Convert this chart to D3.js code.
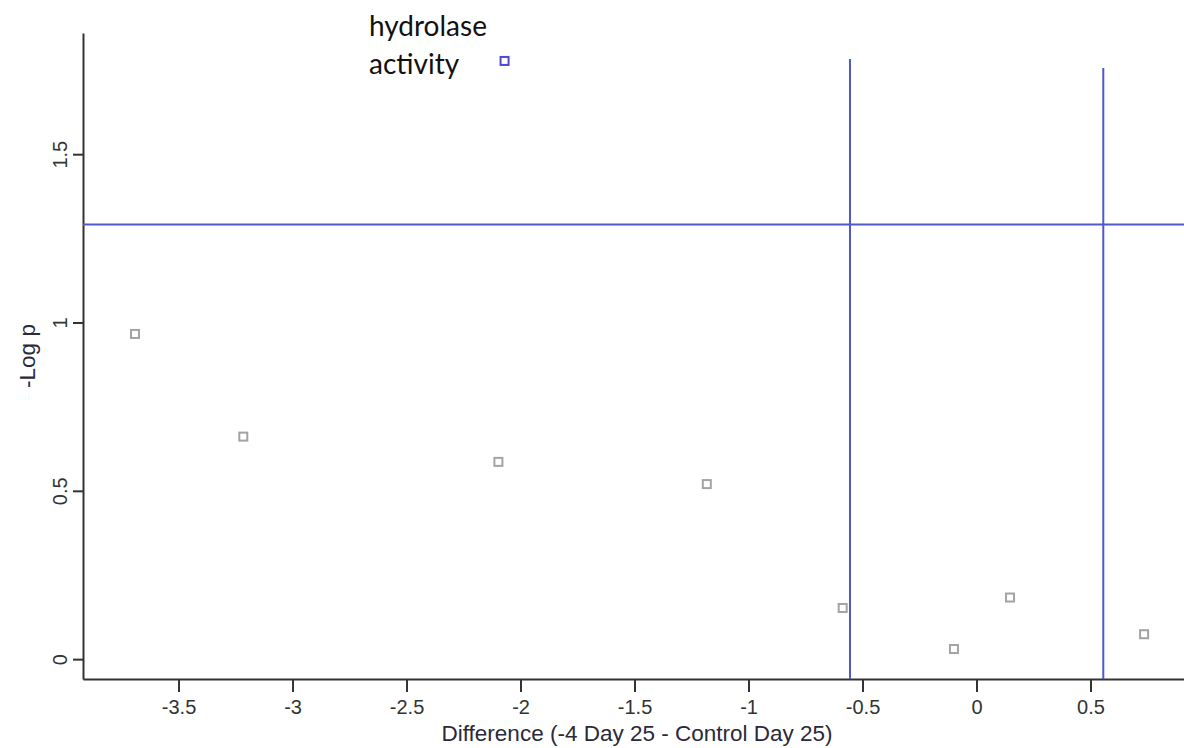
<!DOCTYPE html>
<html>
<head>
<meta charset="utf-8">
<script src="https://cdn.jsdelivr.net/npm/d3@7"></script>
<style>
  html, body { margin: 0; padding: 0; background: #fff; }
  svg { display: block; }
</style>
</head>
<body>
<svg id="chart" width="1184" height="748"></svg>
<script>
// ---- data ----
const diffValues = [-3.691, -3.216, -2.097, -1.183, -0.587, -0.099, 0.147, 0.735];
const logpValues = [0.966, 0.661, 0.586, 0.520, 0.152, 0.030, 0.183, 0.074];
const highlightLabel = ["hydrolase", "activity"];
const highlightX = [-2.070];
const highlightY = [1.777];
const xTicks = [-3.5, -3, -2.5, -2, -1.5, -1, -0.5, 0, 0.5];
const yTicks = [0, 0.5, 1, 1.5];
const hLineValue = [1.291];
const vLineX = [-0.555, 0.556];
const vLineTop = [1.783, 1.756];
const xTitle = "Difference (-4 Day 25 - Control Day 25)";
const yTitle = "-Log p";

// ---- layout ----
const svg = d3.select("#chart");
const axisColor = "#333";
const blue = "#5058cc";
const font = "'Liberation Sans', Arial, sans-serif";

const x = d3.scaleLinear().domain([-3.919, 0.910]).range([83, 1184]);
const y = d3.scaleLinear().domain([-0.059, 1.860]).range([679, 33]);

// x axis
const xAxis = d3.axisBottom(x).tickValues(xTicks).tickSize(13).tickSizeOuter(0)
  .tickFormat(d => String(d));
const gx = svg.append("g").attr("transform", `translate(0,${y.range()[0]})`).call(xAxis);
gx.select(".domain").attr("stroke", axisColor).attr("stroke-width", 2);
gx.selectAll(".tick line").attr("stroke", axisColor).attr("stroke-width", 2);
gx.selectAll(".tick text").attr("fill", axisColor).attr("font-family", font)
  .attr("font-size", 20).attr("dy", 0).attr("y", 35);

// y axis
const yAxis = d3.axisLeft(y).tickValues(yTicks).tickSize(10).tickSizeOuter(0)
  .tickFormat(d => String(d));
const gy = svg.append("g").attr("transform", `translate(${x.range()[0]},0)`).call(yAxis);
gy.select(".domain").attr("stroke", axisColor).attr("stroke-width", 2);
gy.selectAll(".tick line").attr("stroke", axisColor).attr("stroke-width", 2);
gy.selectAll(".tick text").attr("fill", axisColor).attr("font-family", font)
  .attr("font-size", 20)
  .attr("x", 0).attr("dy", 0)
  .attr("text-anchor", "middle")
  .attr("transform", "translate(-16,0) rotate(-90)")
  .attr("y", 0);

// axis titles
svg.append("text").attr("x", 637).attr("y", 741).attr("text-anchor", "middle")
  .attr("font-family", font).attr("font-size", 22.5).attr("fill", "#2a2a3a").text(xTitle);
svg.append("text").attr("transform", `translate(35,356) rotate(-90)`).attr("text-anchor", "middle")
  .attr("font-family", font).attr("font-size", 22.5).attr("fill", "#2a2a3a").text(yTitle);

// threshold lines
svg.selectAll(".hline").data(hLineValue).enter().append("line")
  .attr("x1", x.range()[0]).attr("x2", x.range()[1])
  .attr("y1", d => y(d)).attr("y2", d => y(d))
  .attr("stroke", blue).attr("stroke-width", 2);
svg.selectAll(".vline").data(vLineX).enter().append("line")
  .attr("x1", d => x(d)).attr("x2", d => x(d))
  .attr("y1", (d, i) => y(vLineTop[i])).attr("y2", y.range()[0])
  .attr("stroke", blue).attr("stroke-width", 2);

// points
const s = 8;
svg.selectAll(".pt").data(diffValues).enter().append("rect")
  .attr("x", d => x(d) - s / 2)
  .attr("y", (d, i) => y(logpValues[i]) - s / 2)
  .attr("width", s).attr("height", s)
  .attr("fill", "#fff").attr("stroke", "#a3a3a3").attr("stroke-width", 2);

svg.selectAll(".hpt").data(highlightX).enter().append("rect")
  .attr("x", d => x(d) - s / 2)
  .attr("y", (d, i) => y(highlightY[i]) - s / 2)
  .attr("width", s).attr("height", s)
  .attr("fill", "#fff").attr("stroke", "#4a4ad4").attr("stroke-width", 2);

// annotation
const ann = svg.append("text").attr("font-family", "Lato, 'Open Sans', sans-serif")
  .attr("font-size", 28).attr("fill", "#111");
ann.selectAll("tspan").data(highlightLabel).enter().append("tspan")
  .attr("x", 369).attr("y", (d, i) => 36 + i * 38).text(d => d);
</script>
</body>
</html>
